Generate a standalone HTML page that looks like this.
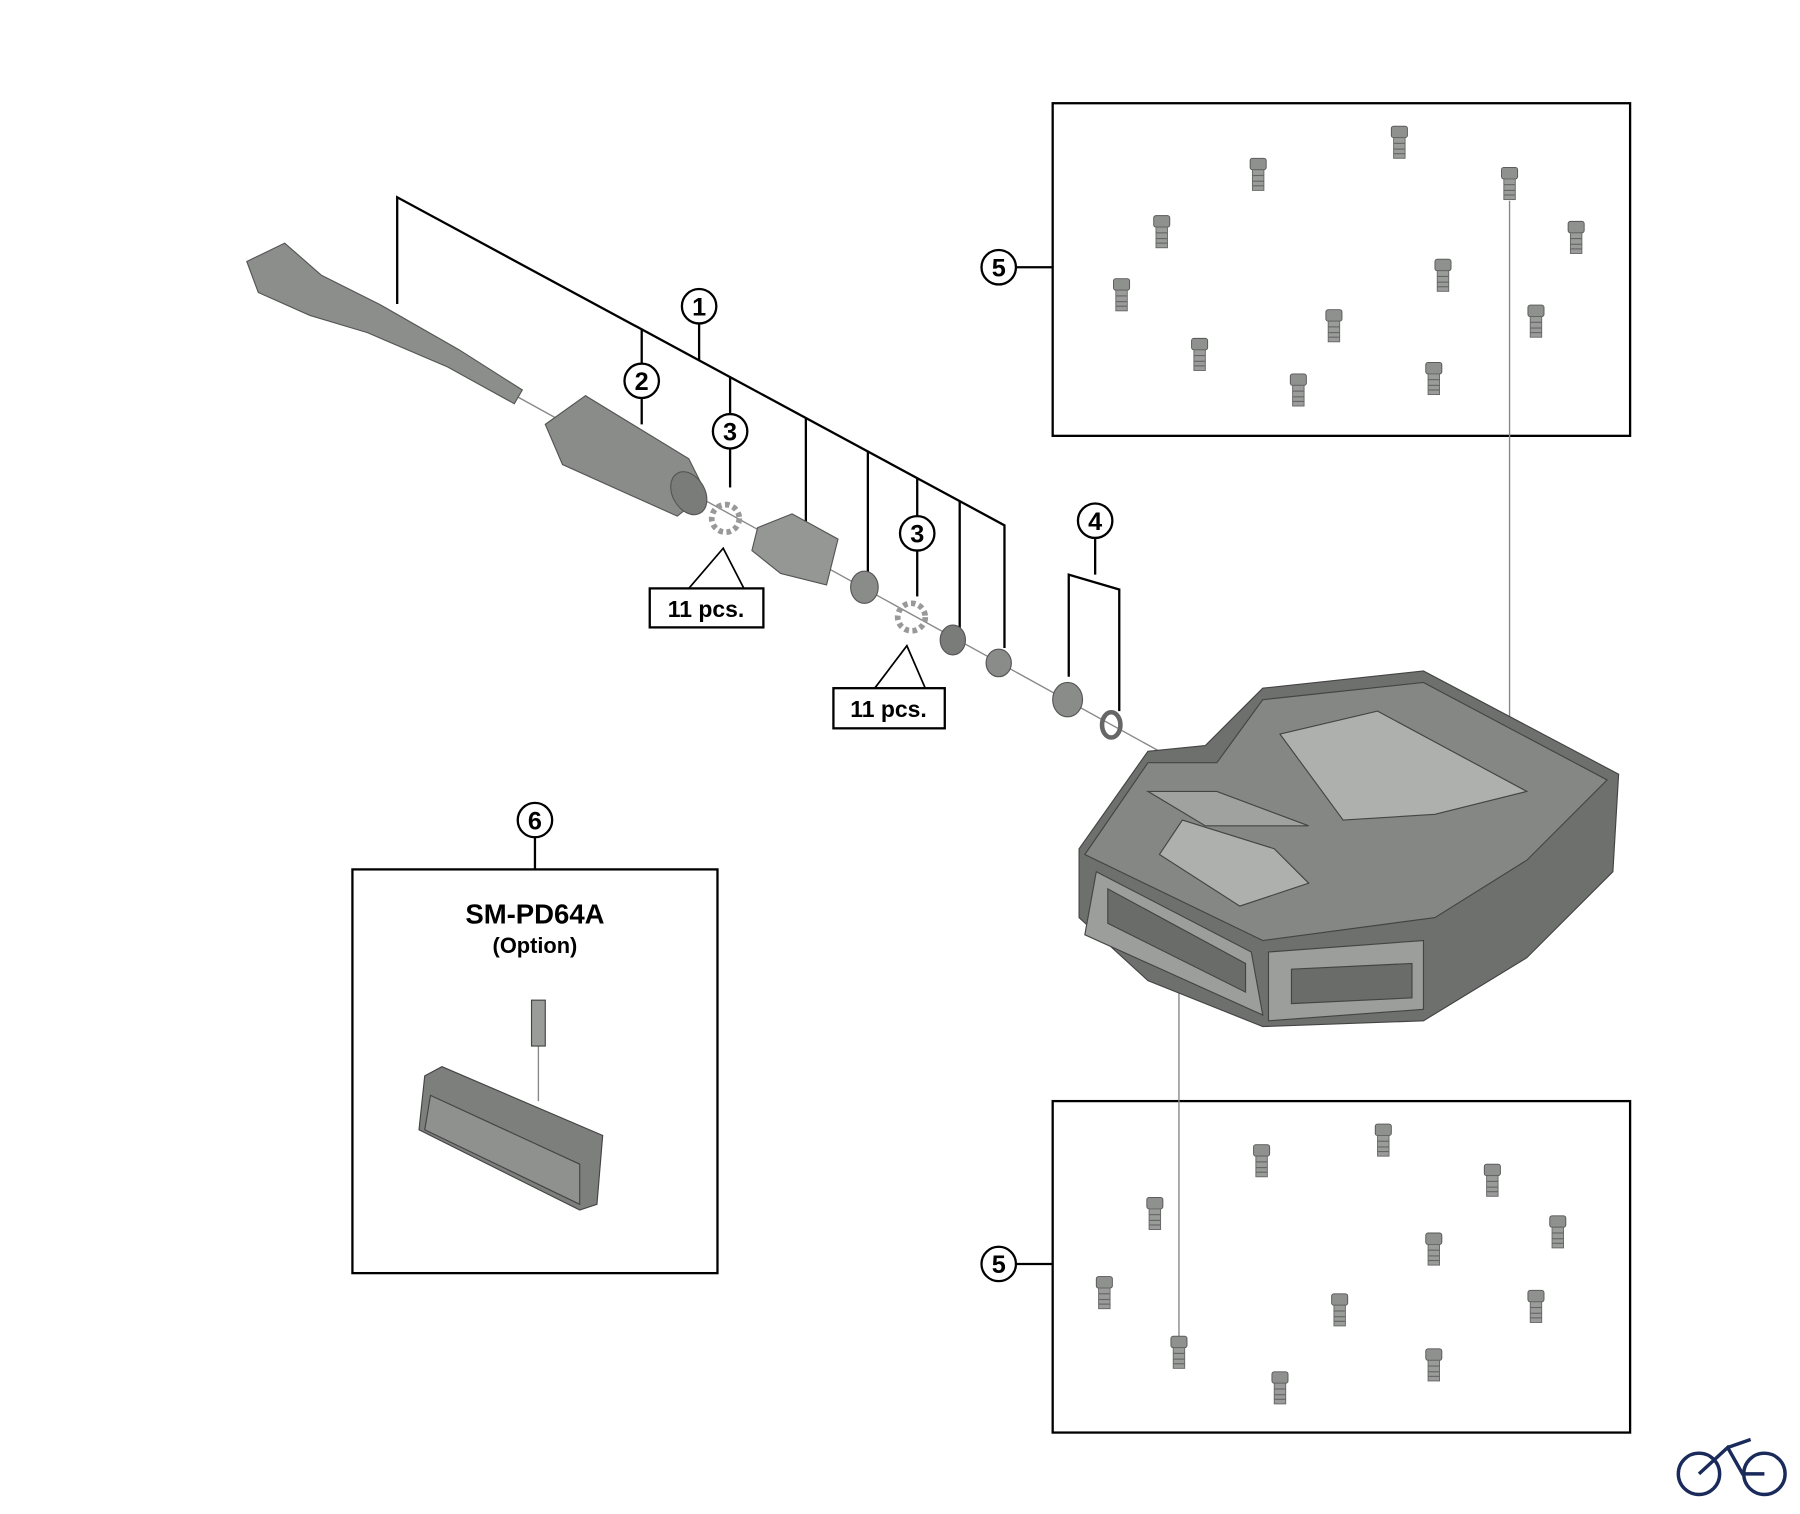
<!DOCTYPE html>
<html><head><meta charset="utf-8"><style>
html,body{margin:0;padding:0;background:#fff;}
svg{display:block}
text{font-family:"Liberation Sans",sans-serif;}
</style></head><body>
<svg width="1800" height="1514" viewBox="0 0 1568 1320" preserveAspectRatio="none" xmlns="http://www.w3.org/2000/svg">
<defs>
<g id="stud"><rect x="-7" y="-2" width="14" height="10" rx="2" fill="#8f918f" stroke="#555" stroke-width="0.8"/><rect x="-5" y="8" width="10" height="18" fill="#9a9c9a" stroke="#666" stroke-width="0.8"/><line x1="-5" y1="13" x2="5" y2="13" stroke="#666"/><line x1="-5" y1="18" x2="5" y2="18" stroke="#666"/><line x1="-5" y1="22" x2="5" y2="22" stroke="#666"/></g>
</defs>
<g fill="none" stroke="#000" stroke-width="2">
<rect x="917" y="90" width="503" height="290"/>
<rect x="917" y="960" width="503" height="289"/>
<rect x="307" y="758" width="318" height="352"/>
<line x1="884" y1="233" x2="917" y2="233"/>
<line x1="884" y1="1102" x2="917" y2="1102"/>
<polyline points="346,265 346,172 875,458 875,565"/>
<line x1="559" y1="287" x2="559" y2="317"/><line x1="559" y1="347" x2="559" y2="370"/>
<line x1="609" y1="282" x2="609" y2="314"/>
<line x1="636" y1="329" x2="636" y2="361"/><line x1="636" y1="391" x2="636" y2="425"/>
<line x1="702" y1="364" x2="702" y2="455"/>
<line x1="756" y1="393" x2="756" y2="505"/>
<line x1="799" y1="417" x2="799" y2="450"/><line x1="799" y1="480" x2="799" y2="520"/>
<line x1="836" y1="437" x2="836" y2="550"/>
<line x1="954" y1="469" x2="954" y2="501"/>
<polyline points="931,590 931,501 975,514 975,620"/>
<line x1="466" y1="730" x2="466" y2="758"/>
<rect x="566" y="513" width="99" height="34"/>
<rect x="726" y="600" width="97" height="35"/>
<polyline points="600,513 630,478 648,513" stroke-width="1.5"/>
<polyline points="762,600 790,563 806,600" stroke-width="1.5"/>
</g>
<g fill="#fff" stroke="#000" stroke-width="2">
<circle cx="609" cy="267" r="15"/><circle cx="559" cy="332" r="15"/><circle cx="636" cy="376" r="15"/>
<circle cx="799" cy="465" r="15"/><circle cx="954" cy="454" r="15"/><circle cx="466" cy="715" r="15"/>
<circle cx="870" cy="233" r="15"/><circle cx="870" cy="1102" r="15"/>
</g>
<g font-size="22" font-weight="bold" text-anchor="middle">
<text x="609" y="275">1</text><text x="559" y="340">2</text><text x="636" y="384">3</text>
<text x="799" y="473">3</text><text x="954" y="462">4</text><text x="466" y="723">6</text>
<text x="870" y="241">5</text><text x="870" y="1110">5</text>
<text x="615" y="538" font-size="20">11 pcs.</text>
<text x="774" y="625" font-size="20">11 pcs.</text>
<text x="466" y="805" font-size="24">SM-PD64A</text>
<text x="466" y="831" font-size="19">(Option)</text>
</g>
<!-- thin leader lines -->
<g stroke="#888" stroke-width="1.2">
<line x1="1315" y1="175" x2="1315" y2="640"/>
<line x1="1027" y1="835" x2="1027" y2="1180"/>
<line x1="440" y1="340" x2="1010" y2="655"/>
<line x1="469" y1="905" x2="469" y2="960"/>
</g>
<!-- axle -->
<g stroke="#555" stroke-width="1">
<path d="M215,228 L248,212 L280,240 L330,265 L400,305 L455,340 L448,352 L390,320 L320,290 L270,275 L225,255 Z" fill="#8c8e8c"/>
<path d="M475,370 L510,345 L600,400 L615,430 L590,450 L490,405 Z" fill="#8a8c8a"/>
<ellipse cx="600" cy="430" rx="14" ry="20" fill="#7a7c7a" transform="rotate(-30 600 430)"/>
<path d="M660,460 L690,448 L730,470 L720,510 L680,500 L655,480 Z" fill="#959795"/>
<ellipse cx="753" cy="512" rx="12" ry="14" fill="#8a8c8a"/>
<ellipse cx="830" cy="558" rx="11" ry="13" fill="#7a7c7a"/>
<ellipse cx="870" cy="578" rx="11" ry="12" fill="#8a8c8a"/>
<ellipse cx="930" cy="610" rx="13" ry="15" fill="#8a8c8a"/>
<ellipse cx="968" cy="632" rx="8" ry="11" fill="none" stroke="#666" stroke-width="4"/>
<circle cx="632" cy="452" r="12" fill="none" stroke="#999" stroke-width="5" stroke-dasharray="4 3"/>
<circle cx="794" cy="538" r="12" fill="none" stroke="#999" stroke-width="5" stroke-dasharray="4 3"/>
</g>
<!-- pedal -->
<g stroke="#444" stroke-width="1">
<path d="M940,800 L940,740 L1000,655 L1050,650 L1100,600 L1240,585 L1410,675 L1405,760 L1330,835 L1240,890 L1100,895 L1000,855 Z" fill="#6e706e"/>
<path d="M945,745 L1000,665 L1060,665 L1100,610 L1240,595 L1400,680 L1330,750 L1250,800 L1100,820 Z" fill="#858785"/>
<path d="M1115,640 L1200,620 L1330,690 L1250,710 L1170,715 Z" fill="#aeb0ae"/>
<path d="M1010,745 L1030,715 L1110,740 L1140,770 L1080,790 Z" fill="#aeb0ae"/>
<path d="M1000,690 L1060,690 L1140,720 L1050,720 Z" fill="#a0a2a0"/>
<path d="M955,760 L1090,830 L1100,885 L945,815 Z" fill="#9c9e9c"/>
<path d="M1105,830 L1240,820 L1240,880 L1105,890 Z" fill="#9c9e9c"/>
<path d="M1125,845 L1230,840 L1230,870 L1125,875 Z" fill="#6a6c6a"/>
<path d="M965,775 L1085,840 L1085,865 L965,805 Z" fill="#6a6c6a"/>
</g>
<!-- option part -->
<g stroke="#444" stroke-width="1">
<rect x="463" y="872" width="12" height="40" fill="#9a9c9a"/>
<path d="M370,938 L385,930 L525,990 L520,1050 L505,1055 L365,985 Z" fill="#7d7f7d"/>
<path d="M375,955 L505,1015 L505,1050 L370,985 Z" fill="#8f918f"/>
</g>
<!-- studs top -->
<g>
<use href="#stud" x="1219" y="112"/><use href="#stud" x="1096" y="140"/><use href="#stud" x="1315" y="148"/>
<use href="#stud" x="1012" y="190"/><use href="#stud" x="1373" y="195"/><use href="#stud" x="1257" y="228"/>
<use href="#stud" x="977" y="245"/><use href="#stud" x="1338" y="268"/><use href="#stud" x="1162" y="272"/>
<use href="#stud" x="1045" y="297"/><use href="#stud" x="1249" y="318"/><use href="#stud" x="1131" y="328"/>
<use href="#stud" x="1205" y="982"/><use href="#stud" x="1099" y="1000"/><use href="#stud" x="1300" y="1017"/>
<use href="#stud" x="1006" y="1046"/><use href="#stud" x="1357" y="1062"/><use href="#stud" x="1249" y="1077"/>
<use href="#stud" x="962" y="1115"/><use href="#stud" x="1167" y="1130"/><use href="#stud" x="1338" y="1127"/>
<use href="#stud" x="1027" y="1167"/><use href="#stud" x="1249" y="1178"/><use href="#stud" x="1115" y="1198"/>
</g>
<!-- logo -->
<g fill="none" stroke="#1a2a5a" stroke-width="3">
<circle cx="1480" cy="1285" r="18"/><circle cx="1537" cy="1285" r="18"/>
<polyline points="1480,1285 1505,1262 1518,1285 1537,1285"/>
<line x1="1505" y1="1262" x2="1525" y2="1255"/>
</g>
</svg>
</body></html>
